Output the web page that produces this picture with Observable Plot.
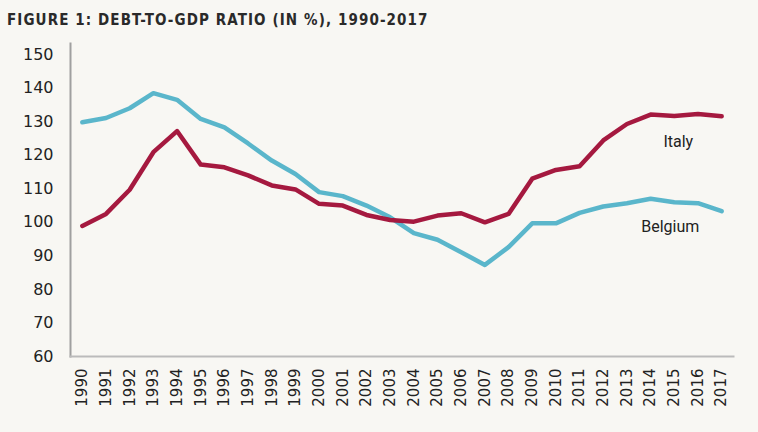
<!DOCTYPE html>
<html>
<head>
<meta charset="utf-8">
<script src="https://cdn.jsdelivr.net/npm/d3@7"></script>
<script src="https://cdn.jsdelivr.net/npm/@observablehq/plot@0.6"></script>
<style>
  html, body { margin: 0; padding: 0; background: #f8f7f3; }
  #title { font-family: "DejaVu Sans Condensed", "DejaVu Sans", sans-serif; font-weight: bold; font-size: 15px; letter-spacing: 1.1px; color: #2a2a2a; padding: 12px 0 0 7px; height: 38px; box-sizing: border-box; line-height: 16px; }
</style>
</head>
<body>
<div id="title">FIGURE 1: DEBT-TO-GDP RATIO (IN %), 1990-2017</div>
<div id="chart"></div>
<script>
const years = [1990,1991,1992,1993,1994,1995,1996,1997,1998,1999,2000,2001,2002,2003,2004,2005,2006,2007,2008,2009,2010,2011,2012,2013,2014,2015,2016,2017];
const belgium = [129.8,131.1,134.0,138.5,136.5,130.8,128.3,123.5,118.4,114.4,109.0,107.8,105.0,101.5,96.8,94.8,91.1,87.3,92.6,99.7,99.7,102.8,104.7,105.7,107.0,106.0,105.7,103.3];
const italy = [98.9,102.5,109.7,120.9,127.2,117.2,116.4,114.0,111.0,109.8,105.5,105.0,102.2,100.7,100.2,102.0,102.7,100.0,102.5,113.0,115.6,116.7,124.4,129.3,132.1,131.7,132.3,131.6];
const yTicks = [60,70,80,90,100,110,120,130,140,150];
const seriesNames = ["Italy", "Belgium"];
const labelYears = [2015, 2015];
const labelValues = [123.9, 98.7];

const colors = {Italy: "#a5193f", Belgium: "#5ab6cb"};
const rows = [];
years.forEach((yr, i) => {
  rows.push({year: yr, value: belgium[i], country: "Belgium"});
  rows.push({year: yr, value: italy[i], country: "Italy"});
});
const labels = seriesNames.map((n, i) => ({name: n, year: labelYears[i], value: labelValues[i]}));
const labelStyle = {x: "year", y: "value", text: "name", fill: "#222", fontSize: 16, fontFamily: "Roboto, sans-serif"};

const chart = Plot.plot({
  width: 758,
  height: 394,
  marginTop: 5,
  marginBottom: 76,
  marginLeft: 70,
  marginRight: 25,
  style: {background: "#f8f7f3", fontFamily: "'DejaVu Sans', sans-serif", fontSize: "15px", color: "#222"},
  x: {type: "point", domain: years, padding: 0.5, round: false, label: null},
  y: {domain: [60, 153.3], label: null},
  marks: [
    Plot.frame({anchor: "left", stroke: "#a0a0a0", strokeWidth: 2}),
    Plot.frame({anchor: "bottom", stroke: "#bbb", strokeWidth: 2}),
    Plot.axisY({ticks: yTicks, tickSize: 0, tickPadding: 17, label: null, fill: "#222", fontSize: 16}),
    Plot.axisX({tickRotate: -90, tickSize: 0, tickPadding: 12, tickFormat: d => String(d), label: null, fill: "#222", fontSize: 15}),
    Plot.line(rows, {x: "year", y: "value", z: "country", stroke: d => colors[d.country], strokeWidth: 4.5, strokeLinejoin: "round"}),
    Plot.text(labels.filter(d => d.name === "Italy"), {...labelStyle, dx: 4}),
    Plot.text(labels.filter(d => d.name === "Belgium"), {...labelStyle, dx: -4})
  ]
});
document.getElementById("chart").appendChild(chart);
</script>
</body>
</html>
